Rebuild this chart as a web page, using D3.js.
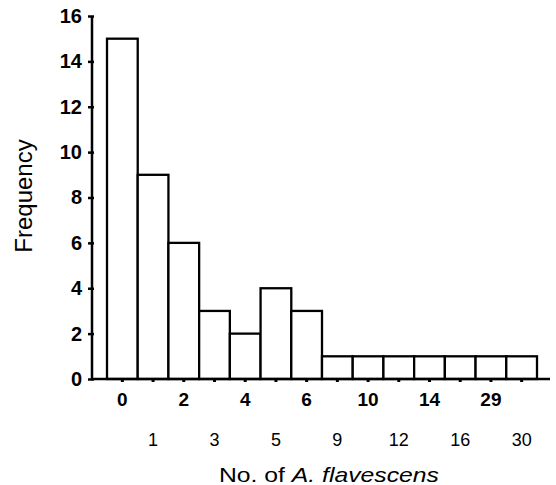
<!DOCTYPE html>
<html>
<head>
<meta charset="utf-8">
<script src="https://cdn.jsdelivr.net/npm/d3@7"></script>
<style>
  body { margin: 0; background: #fff; }
  svg { font-family: "Liberation Sans", Arial, sans-serif; }
</style>
</head>
<body>
<script>
var width = 556;
var height = 485;

// data
var categories = ["0", "1", "2", "3", "4", "5", "6", "9", "10", "12", "14", "16", "29", "30"];
var frequency = [15, 9, 6, 3, 2, 4, 3, 1, 1, 1, 1, 1, 1, 1];
var yTicks = [0, 2, 4, 6, 8, 10, 12, 14, 16];

var svg = d3.select("body").append("svg")
	.attr("width", width)
	.attr("height", height);

var x = d3.scaleBand().domain(categories).range([107, 537]).padding(0);
var y = d3.scaleLinear().domain([0, 16]).range([379, 16]);

// bars
svg.selectAll("rect.bar")
	.data(frequency)
	.enter().append("rect")
	.attr("class", "bar")
	.attr("x", function(d, i) { return x(categories[i]); })
	.attr("y", function(d) { return y(d); })
	.attr("width", x.bandwidth())
	.attr("height", function(d) { return y(0) - y(d); })
	.attr("fill", "#fff")
	.attr("stroke", "#000")
	.attr("stroke-width", 2.3);

// y axis
var yAxis = svg.append("g")
	.attr("transform", "translate(92,0)")
	.call(d3.axisLeft(y).tickValues(yTicks).tickSize(4).tickPadding(6))
	.attr("font-family", "Liberation Sans, Arial, sans-serif");
yAxis.select(".domain").attr("stroke-width", 2.5).attr("d", "M0," + y(16) + "V" + y(0));
yAxis.selectAll(".tick line").attr("stroke-width", 2.5).attr("x2", -4).attr("x1", 2);
yAxis.selectAll(".tick text")
	.attr("font-size", 20)
	.attr("font-weight", "bold")
	.attr("fill", "#000");

// x axis
var xAxis = svg.append("g")
	.attr("transform", "translate(0," + y(0) + ")")
	.call(d3.axisBottom(x).tickSize(3).tickPadding(14))
	.attr("font-family", "Liberation Sans, Arial, sans-serif");
xAxis.select(".domain").attr("stroke-width", 2.5).attr("d", "M92,0H550");
xAxis.selectAll(".tick line").attr("stroke-width", 3);
xAxis.selectAll(".tick text")
	.attr("fill", "#000")
	.attr("font-size", function(d, i) { return i % 2 == 0 ? 19 : 18; })
	.attr("font-weight", function(d, i) { return i % 2 == 0 ? "bold" : "normal"; })
	.attr("y", function(d, i) { return i % 2 == 0 ? 14 : 54; });

// axis titles
svg.append("text")
	.attr("x", 329)
	.attr("y", 482)
	.attr("text-anchor", "middle")
	.attr("font-size", 21)
	.attr("textLength", 220)
	.attr("lengthAdjust", "spacingAndGlyphs")
	.html('No. of <tspan font-style="italic">A. flavescens</tspan>');

svg.append("text")
	.attr("transform", "translate(32,196) rotate(-90)")
	.attr("text-anchor", "middle")
	.attr("font-size", 24)
	.text("Frequency");
</script>
</body>
</html>
